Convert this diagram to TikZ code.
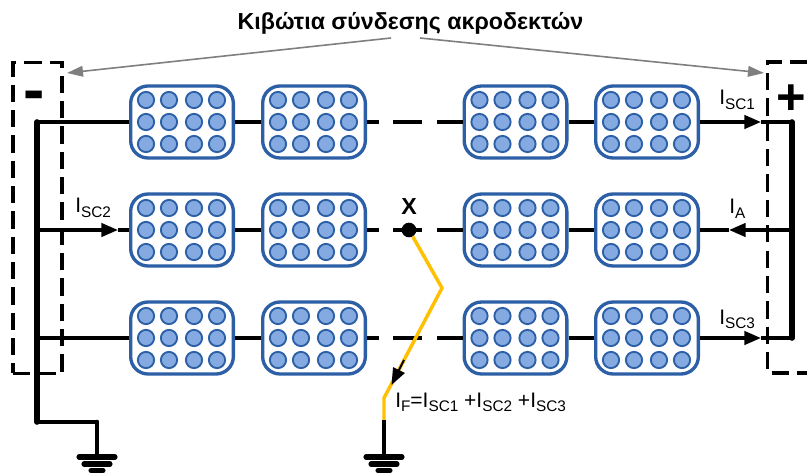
\documentclass[tikz,border=0pt]{standalone}
\usepackage{fontspec}
\setmainfont{Liberation Sans}
\usetikzlibrary{arrows.meta}
\definecolor{panelblue}{RGB}{44,95,165}
\definecolor{cellblue}{RGB}{132,170,225}
\definecolor{faultyellow}{RGB}{255,192,0}
\definecolor{notegray}{RGB}{127,127,127}
\tikzset{
panel/.style = {shape = rectangle, draw = panelblue, fill = white, line width = 2.5pt, rounded corners = 13pt, minimum width = 77pt, minimum height = 54pt, inner sep = 0pt},
cell/.style = {shape = circle, draw = panelblue, fill = cellblue, line width = 1.4pt, minimum size = 12.2pt, inner sep = 0pt},
wire/.style = {line width = 2.5pt},
brokenwire/.style = {line width = 3.2pt, dash pattern = on 9pt off 10.5pt on 22pt off 11pt on 22pt},
busbar/.style = {line width = 4.2pt, line cap = round},
box/.style = {line width = 2.4pt, dash pattern = on 13pt off 6pt},
current/.style = {wire, -{Triangle[length = 12.5pt, width = 10pt]}},
note/.style = {draw = notegray, line width = 1.2pt, -{Triangle[length = 12pt, width = 8pt]}},
lbl/.style = {anchor = base west, inner sep = 0pt, font = \fontsize{15.75}{18}\selectfont}
}
\newcommand{\Sb}[1]{\raisebox{-0.22em}{\fontsize{11.5}{12}\selectfont #1}}
\newcommand{\Panel}[3]{\begin{scope}[shift={(#2,#3)}]
\node[panel] (#1) at (0,0) {};
\node[cell] (#1a) at (-36,-22) {}; \node[cell] (#1b) at (-13,-22) {}; \node[cell] (#1c) at (12,-22) {}; \node[cell] (#1d) at (35,-22) {};
\node[cell] (#1e) at (-36,0) {}; \node[cell] (#1f) at (-13,0) {}; \node[cell] (#1g) at (12,0) {}; \node[cell] (#1h) at (35,0) {};
\node[cell] (#1i) at (-36,22) {}; \node[cell] (#1j) at (-13,22) {}; \node[cell] (#1k) at (12,22) {}; \node[cell] (#1l) at (35,22) {};
\end{scope}}
\newcommand{\Ground}[3]{\begin{scope}[shift={(#2,#3)}, line cap = round]
\coordinate (#1) at (0,0);
\draw[line width = 3.8pt] (-18,0) -- (18,0); \draw[line width = 3.8pt] (-13,7) -- (13,7); \draw[line width = 3.8pt] (-6,13.5) -- (6,13.5);
\end{scope}}

\begin{document}
\begin{tikzpicture}[x=0.75pt,y=-0.75pt]
\useasboundingbox (0,0) rectangle (807,474);
\Panel{A1}{182}{122} \Panel{A2}{314}{122} \Panel{A3}{515.5}{122} \Panel{A4}{647}{122}
\Panel{B1}{182}{230} \Panel{B2}{314}{230} \Panel{B3}{515.5}{230} \Panel{B4}{647}{230}
\Panel{C1}{182}{338} \Panel{C2}{314}{338} \Panel{C3}{515.5}{338} \Panel{C4}{647}{338}
\Ground{gndL}{97}{457} \Ground{gndF}{384}{457}

\node[box, draw, minimum width = 36.75pt, minimum height = 233pt, inner sep = 0pt] (boxL) at (37.5,218) {};
\coordinate (boxRa) at (807,62); \coordinate (boxRb) at (767.5,62); \coordinate (boxRc) at (767.5,373); \coordinate (boxRd) at (807,373);
\draw[box] (boxRa) -- (boxRb) -- (boxRc) -- (boxRd);

\coordinate (busLa) at (37,122); \coordinate (busLb) at (37,230); \coordinate (busLc) at (37,338); \coordinate (busLd) at (37,422);
\coordinate (busRa) at (792,122); \coordinate (busRb) at (792,230); \coordinate (busRc) at (792,338);
\coordinate (bendL) at (97,422);
\coordinate (tipA) at (761,122); \coordinate (tipB) at (729,230); \coordinate (tipC) at (118,230); \coordinate (tipD) at (761,338);

\draw[wire] (busLa) -- (A1.west); \draw[wire] (A1.east) -- (A2.west); \draw[brokenwire] (A2.east) -- (A3.west); \draw[wire] (A3.east) -- (A4.west); \draw[current] (A4.east) -- (tipA); \draw[wire] (tipA) -- (busRa);
\draw[current] (busLb) -- (tipC); \draw[wire] (tipC) -- (B1.west); \draw[wire] (B1.east) -- (B2.west); \draw[brokenwire] (B2.east) -- (B3.west); \draw[wire] (B3.east) -- (B4.west); \draw[current] (busRb) -- (tipB); \draw[wire] (tipB) -- (B4.east);
\draw[wire] (busLc) -- (C1.west); \draw[wire] (C1.east) -- (C2.west); \draw[brokenwire] (C2.east) -- (C3.west); \draw[wire] (C3.east) -- (C4.west); \draw[current] (C4.east) -- (tipD); \draw[wire] (tipD) -- (busRc);

\draw[busbar] (busLa) -- (busLd); \draw[busbar] (busRa) -- (busRc);
\draw[wire, line width = 2.8pt, line cap = round] (busLd) -- (bendL); \draw[busbar, line width = 3.5pt] (bendL) -- (gndL);

\coordinate (bendFa) at (442,288); \coordinate (bendFb) at (384,398); \coordinate (bendFc) at (384,420);
\coordinate (arrowFa) at (404,360); \coordinate (arrowFb) at (391.5,385);
\node[shape = circle, fill = black, minimum size = 11pt, inner sep = 0pt] (fault) at (409,230) {};
\draw[draw = faultyellow, line width = 2.6pt, line join = round] (fault) -- (bendFa) -- (bendFb) -- (bendFc);
\draw[busbar, line width = 3.5pt, line cap = butt] (bendFc) -- (gndF);
\draw[line width = 1.4pt, -{Triangle[length = 12.5pt, width = 9.5pt]}] (arrowFa) -- (arrowFb);

\node[font = \bfseries\fontsize{17.4}{20}\selectfont, inner sep = 0pt] (title) at (410.5,23) {Κιβώτια σύνδεσης ακροδεκτών};
\coordinate (noteLa) at (391,38); \coordinate (noteLb) at (67,73); \coordinate (noteRa) at (420,38); \coordinate (noteRb) at (764,73);
\draw[note] (noteLa) -- (noteLb); \draw[note] (noteRa) -- (noteRb);

\node[font = \bfseries\fontsize{48}{50}\selectfont, inner sep = 0pt] (minus) at (34.5,101) {-};
\node[font = \bfseries\fontsize{38}{40}\selectfont, inner sep = 0pt] (plus) at (791,100) {+};
\node[font = \bfseries\fontsize{17.4}{20}\selectfont, inner sep = 0pt] (xmark) at (409,207) {X};
\node[lbl] (isca) at (719,105) {I\Sb{SC1}};
\node[lbl] (iscb) at (75,213) {I\Sb{SC2}};
\node[lbl] (ia) at (729,214) {I\Sb{A}};
\node[lbl] (iscc) at (719,324) {I\Sb{SC3}};
\node[lbl] (ifault) at (395,407) {I\Sb{F}=I\Sb{SC1} +I\Sb{SC2} +I\Sb{SC3}};
\end{tikzpicture}
\end{document}
